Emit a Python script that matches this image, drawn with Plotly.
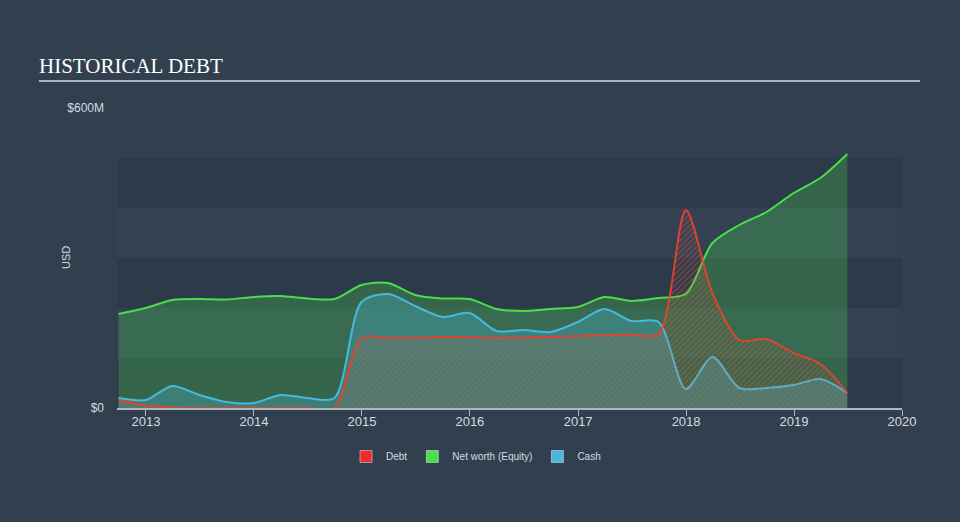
import plotly.graph_objects as go

dates = [
    "2012-09-30", "2012-12-31", "2013-03-31", "2013-06-30", "2013-09-30", "2013-12-31",
    "2014-03-31", "2014-06-30", "2014-09-30", "2014-12-31", "2015-03-31", "2015-06-30",
    "2015-09-30", "2015-12-31", "2016-03-31", "2016-06-30", "2016-09-30", "2016-12-31",
    "2017-03-31", "2017-06-30", "2017-09-30", "2017-12-31", "2018-03-31", "2018-06-30",
    "2018-09-30", "2018-12-31", "2019-03-31", "2019-06-30",
]
# values in USD millions
equity = [188, 200, 216, 218, 217, 222, 224, 219, 218, 246, 250, 226,
          219, 218, 198, 194, 198, 202, 222, 214, 220, 228, 330, 366,
          392, 430, 460, 508]
cash = [20, 16, 44, 26, 12, 10, 26, 20, 20, 212, 228, 204,
        182, 190, 154, 156, 152, 172, 198, 174, 172, 38, 102, 40,
        40, 46, 58, 30]
debt = [16, 5, 1, 0, 0, 0, 0, 0, 0, 140, 140, 141,
        142, 142, 140, 141, 142, 144, 146, 147, 148, 396, 230, 136,
        138, 110, 88, 30]

series_names = ["Debt", "Net worth (Equity)", "Cash"]
y_tick_vals = [0, 600]
y_tick_text = ["$0", "$600M"]
x_tick_vals = ["2013-01-01", "2014-01-01", "2015-01-01", "2016-01-01",
               "2017-01-01", "2018-01-01", "2019-01-01", "2020-01-01"]
x_tick_text = ["2013", "2014", "2015", "2016", "2017", "2018", "2019", "2020"]
band_edges = [0, 100, 200, 300, 400, 500]

BG = "#323f4f"
BAND_DARK = "#2d3a49"
BAND_LIGHT = "#334152"
RED = "#ef2b2b"
GREEN = "#4ade4a"
BLUE = "#48b9dc"
TXT = "#d6dbe0"
FONT = "Liberation Sans, Arial, sans-serif"

L, R, T, B = 117, 58, 108, 114
PW = 960 - L - R
PH = 522 - T - B

def px_x(px):
    return (px - L) / PW

def px_y(py):
    return (522 - B - py) / PH

fig = go.Figure()

# Equity
fig.add_trace(go.Scatter(
    x=dates, y=equity, mode="lines", line=dict(color=GREEN, width=2, shape="spline", smoothing=0.8),
    fill="tozeroy", fillcolor="rgba(64,170,80,0.40)", showlegend=False, hoverinfo="skip"))
# Cash
fig.add_trace(go.Scatter(
    x=dates, y=cash, mode="lines", line=dict(color=BLUE, width=2, shape="spline", smoothing=0.8),
    fill="tozeroy", fillcolor="rgba(72,185,220,0.30)", showlegend=False, hoverinfo="skip"))
# Debt
fig.add_trace(go.Scatter(
    x=dates, y=debt, mode="lines", line=dict(color="rgba(235,65,45,0.9)", width=2, shape="spline", smoothing=0.8),
    fill="tozeroy", fillcolor="rgba(230,70,50,0.12)",
    fillpattern=dict(shape="/", fgcolor="rgba(228,85,60,0.8)", bgcolor="rgba(0,0,0,0)",
                     size=4, solidity=0.4, fillmode="overlay"),
    showlegend=False, hoverinfo="skip"))

# Legend swatches
for name, col in zip(series_names, [RED, GREEN, BLUE]):
    fig.add_trace(go.Bar(x=[None], y=[None], name=name, marker=dict(color=col), showlegend=True))

shapes = []
for i in range(len(band_edges) - 1):
    shapes.append(dict(type="rect", xref="paper", yref="y", x0=0, x1=1,
                       y0=band_edges[i], y1=band_edges[i + 1],
                       fillcolor=BAND_DARK if i % 2 == 0 else BAND_LIGHT,
                       line=dict(width=0), layer="below"))
# title underline
shapes.append(dict(type="line", xref="paper", yref="paper", x0=px_x(39), x1=px_x(920),
                   y0=px_y(81), y1=px_y(81), line=dict(color="#aeb4bb", width=2)))

fig.update_layout(
    width=960, height=522,
    paper_bgcolor=BG, plot_bgcolor=BG,
    margin=dict(l=L, r=R, t=T, b=B),
    font=dict(family=FONT, color=TXT, size=11),
    shapes=shapes,
    barmode="overlay",
    annotations=[
        dict(text="HISTORICAL DEBT", xref="paper", yref="paper",
             x=px_x(37), y=px_y(80), xanchor="left", yanchor="bottom", showarrow=False,
             font=dict(family="Liberation Serif, Times New Roman, serif", size=21, color="#ffffff")),
        dict(text="USD", xref="paper", yref="paper", x=px_x(66), y=px_y(258),
             xanchor="center", yanchor="middle", textangle=-90, showarrow=False,
             font=dict(size=11, color=TXT)),
    ],
    legend=dict(orientation="h", x=px_x(476), xanchor="center", y=px_y(442), yanchor="top",
                font=dict(size=10, color=TXT, family=FONT), bgcolor="rgba(0,0,0,0)",
                traceorder="normal"),
    xaxis=dict(type="date", range=["2012-09-25", "2020-01-01"], tickvals=x_tick_vals, ticktext=x_tick_text,
               showgrid=False, zeroline=False, showline=True, linecolor="#aeb6c0", linewidth=1.5,
               ticks="outside", ticklen=6, tickcolor="#aeb6c0", tickwidth=1,
               ticklabelstandoff=-5,
               tickfont=dict(size=13, color=TXT), fixedrange=True),
    yaxis=dict(range=[0, 600], tickvals=y_tick_vals, ticktext=y_tick_text, showgrid=False,
               zeroline=False, showline=False, ticks="", ticklabelstandoff=12,
               tickfont=dict(size=12, color=TXT), fixedrange=True),
)

fig.write_html("out.html")
